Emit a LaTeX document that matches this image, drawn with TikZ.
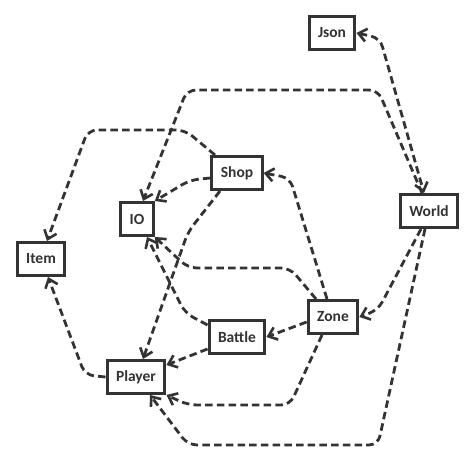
\documentclass[tikz,border=0pt]{standalone}
\usepackage{fontspec}
\setmainfont{Carlito}
\usetikzlibrary{arrows.meta}
\definecolor{ink}{HTML}{333333}
\begin{document}
\begin{tikzpicture}[x=1pt,y=-1pt,
  box/.style={draw=ink,line width=3pt,fill=white,inner xsep=9pt,inner ysep=0pt,
    minimum height=33pt,font=\fontsize{15.5}{17}\selectfont\bfseries,text=ink},
  dep/.style={draw=ink,line width=2.8pt,dash pattern=on 7.5pt off 4.2pt,rounded corners=9pt,
    -{Straight Barb[length=8pt,width=13pt,line width=2.6pt]}},
  bidep/.style={dep,{Straight Barb[length=8pt,width=13pt,line width=2.6pt]}-{Straight Barb[length=8pt,width=13pt,line width=2.6pt]}}
]
\useasboundingbox (0,0) rectangle (475,460);
\node[box] (Json) at (332,33) {Json};
\node[box] (World) at (429,211) {World};
\node[box] (Shop) at (237,173) {Shop};
\node[box] (IO) at (137,219) {IO};
\node[box] (Item) at (41,259) {Item};
\node[box] (Battle) at (237,337) {Battle};
\node[box] (Zone) at (333,317) {Zone};
\node[box] (Player) at (136,377) {Player};

\draw[bidep] (Json.east) -- (380,38) -- ([xshift=-5pt]World.north);
\draw[dep] ([xshift=-7pt]World.north) -- (378,90) -- (187,90) -- ([xshift=6pt]IO.north);
\draw[dep] ([xshift=-22pt]Shop.north) -- (185,130) -- (88,130) -- ([xshift=6pt]Item.north);
\draw[dep] ([yshift=-5pt]Shop.west) -- (190,180) -- (IO.north east);
\draw[dep] ([xshift=-17pt]Shop.south) -- (188,232) -- ([xshift=7pt]Player.north);
\draw[dep] ([xshift=-6pt]Zone.north) -- (290,178) -- (Shop.east);
\draw[dep] ([xshift=-17pt]Zone.north) -- (290,268) -- (188,268) -- (IO.south east);
\draw[dep] ([yshift=-6pt]Battle.north west) -- (185,313) -- ([xshift=10pt]IO.south);
\draw[dep] ([yshift=-5pt]Zone.west) -- (Battle.east);
\draw[dep] ([yshift=-12pt]Battle.west) -- ([yshift=12pt]Player.east);
\draw[dep] (Player.west) -- (85,375) -- ([xshift=7pt]Item.south);
\draw[dep] ([xshift=-11pt]Zone.south) -- (290,405) -- (188,405) -- (Player.south east);
\draw[dep] ([xshift=-4pt]World.south) -- (378,445) -- (188,445) -- ([xshift=14pt]Player.south);
\draw[dep] ([xshift=-8pt]World.south) -- (378,310) -- (Zone.east);
\end{tikzpicture}
\end{document}
